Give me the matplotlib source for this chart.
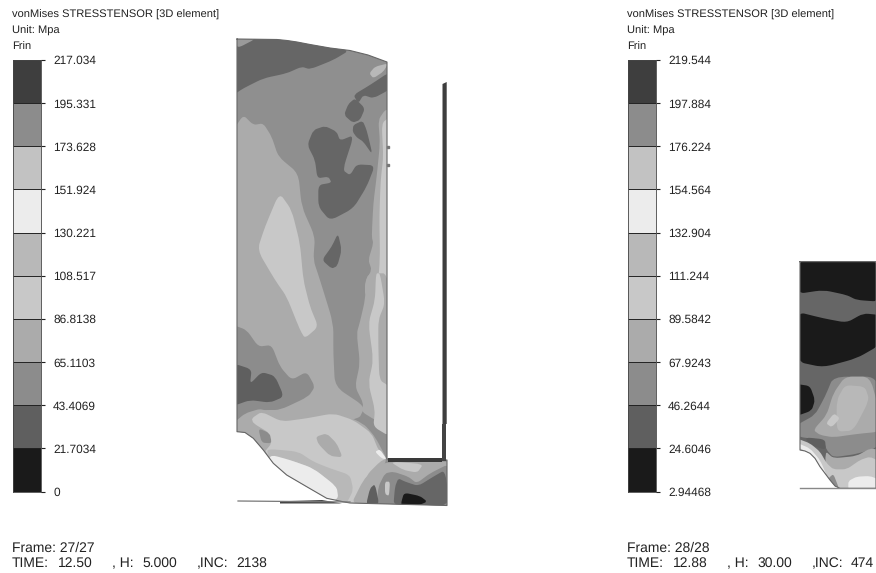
import numpy as np
import matplotlib
matplotlib.use("Agg")
import matplotlib.pyplot as plt
from matplotlib.path import Path
from matplotlib.patches import PathPatch

plt.rcParams['font.family'] = ['Liberation Sans', 'DejaVu Sans']
plt.rcParams['text.hinting'] = 'no_hinting'

#######################################
# DATA
#######################################

# fringe bars, top to bottom
levels_left = [217.034, 195.331, 173.628, 151.924, 130.221, 108.517, 86.8138, 65.1103, 43.4069, 21.7034, 0]
labels_left = ["217.034", "195.331", "173.628", "151.924", "130.221", "108.517", "86.8138", "65.1103", "43.4069", "21.7034", "0"]
levels_right = [219.544, 197.884, 176.224, 154.564, 132.904, 111.244, 89.5842, 67.9243, 46.2644, 24.6046, 2.94468]
labels_right = ["219.544", "197.884", "176.224", "154.564", "132.904", "111.244", "89.5842", "67.9243", "46.2644", "24.6046", "2.94468"]
band_greys = ["#3e3e3e", "#8c8c8c", "#c2c2c2", "#ececec", "#b8b8b8", "#c8c8c8", "#ababab", "#8c8c8c", "#5f5f5f", "#1a1a1a"]

# contours traced on the 3x crops, (crop origin, colour, points)
TOP = (220, 30)
LOW = (220, 280)
EDGE_A = (340, 100)
EDGE_B = (340, 280)
BOX = (340, 440)
RIGHT = (590, 250)
TOE = (790, 380)

left_outline = [(237, 39), (277, 39.5), (287, 40.5), (297, 42), (310, 44.5), (330, 48), (350, 50.5), (368, 55), (387, 62),
                (387, 459), (447, 460), (447, 505.5), (350, 503), (343, 501.7), (326.7, 498.3), (306.7, 486.7),
                (286.7, 475), (273.3, 463.3), (263.3, 450), (253.3, 438.3), (245, 432.5), (237, 431.7)]

left_layers = [
    (TOP, "#666666", [(40, 195), (40, 20), (170, 20), (270, 35), (390, 60), (340, 90), (270, 118), (245, 110), (200, 130), (130, 145), (70, 175)]),
    (TOP, "#9a9a9a", [(45, 25), (110, 25), (52, 55)]),
    (TOP, "#b8b8b8", [(448, 130), (465, 110), (505, 100), (490, 125), (460, 145)]),
    (TOP, "#666666", [(400, 195), (450, 165), (510, 125), (510, 178), (460, 205), (430, 195), (415, 220)]),
    (TOP, "#666666", [(405, 205), (435, 235), (420, 270), (398, 278), (372, 255), (385, 222)]),
    (TOP, "#666666", [(400, 285), (428, 272), (440, 300), (458, 375), (430, 335), (410, 322), (398, 305)]),
    (TOP, "#666666", [(262, 345), (280, 300), (315, 288), (350, 305), (360, 332), (402, 315), (368, 420), (390, 436), (410, 403), (465, 406), (440, 470), (400, 535), (330, 572), (295, 530), (295, 465), (335, 458), (325, 440), (292, 445), (285, 390)]),
    (TOP, "#666666", [(354, 610), (365, 660), (352, 708), (335, 716), (306, 690), (335, 650)]),
    # left light zone, runs over both crops
    (TOP, "#ababab", [(40, 300), (70, 255), (100, 285), (130, 280), (155, 320), (175, 380), (235, 430), (245, 530), (285, 620), (280, 690), (300, 750), (340, 880), (340, 970), (345, 1070), (435, 1130), (415, 1170), (40, 1220)]),
    (TOP, "#c8c8c8", [(178, 488), (135, 590), (112, 660), (165, 750), (200, 800), (240, 900), (255, 925), (295, 890), (270, 830), (250, 750), (240, 640), (215, 540)]),
    # right edge strips
    (EDGE_A, "#ababab", [(115, 60), (135, 30), (150, 30), (150, 590), (75, 590), (75, 545), (95, 510), (85, 480), (100, 430), (95, 410), (100, 310), (110, 230), (120, 130)]),
    (EDGE_A, "#c8c8c8", [(125, 70), (150, 50), (150, 590), (110, 590), (120, 480), (118, 350), (122, 240), (130, 170)]),
    (EDGE_B, "#ababab", [(80, -20), (150, -20), (150, 440), (105, 420), (65, 395), (70, 370), (45, 320), (60, 250), (50, 160), (60, 125), (75, 60)]),
    (EDGE_B, "#c8c8c8", [(108, -20), (120, -20), (135, 70), (115, 120), (115, 200), (118, 300), (150, 320), (150, 470), (100, 440), (105, 390), (85, 310), (100, 240), (85, 130), (105, 60)]),
    # lower left darker zones
    (LOW, "#8c8c8c", [(40, 135), (80, 150), (115, 200), (155, 195), (180, 260), (215, 300), (260, 275), (285, 320), (265, 350), (180, 390), (130, 390), (95, 395), (40, 425)]),
    (LOW, "#5f5f5f", [(40, 250), (95, 268), (90, 312), (125, 276), (165, 288), (192, 350), (150, 368), (90, 360), (40, 378)]),
    (LOW, "#ababab", [(40, 470), (40, 430), (75, 400), (125, 385), (185, 415), (340, 392), (430, 430), (465, 470), (505, 545), (440, 600), (400, 690), (150, 570), (100, 490)]),
    (LOW, "#8c8c8c", [(115, 445), (150, 460), (155, 490), (125, 488)]),
    (LOW, "#c8c8c8", [(95, 415), (125, 395), (185, 425), (260, 415), (340, 400), (400, 420), (455, 460), (475, 510), (500, 535), (480, 545), (440, 585), (400, 690), (350, 690), (130, 520), (155, 490), (150, 460), (100, 430)]),
    (LOW, "#ababab", [(288, 470), (320, 460), (350, 490), (368, 532), (330, 528), (295, 492)]),
    (LOW, "#b8b8b8", [(140, 510), (160, 508), (235, 515), (280, 545), (330, 565), (390, 585), (400, 630), (380, 670), (345, 670), (350, 620), (280, 565), (210, 540), (150, 540)]),
    (LOW, "#ececec", [(155, 525), (210, 540), (280, 565), (350, 620), (355, 655), (320, 670), (260, 640), (200, 600), (140, 545)]),
    # box at the bottom right
    (BOX, "#ababab", [(30, 200), (70, 120), (100, 90), (140, 65), (310, 65), (330, 65), (330, 200)]),
    (BOX, "#8c8c8c", [(110, 200), (115, 140), (135, 100), (160, 95), (205, 110), (230, 130), (270, 100), (330, 70), (330, 200)]),
    (BOX, "#666666", [(160, 200), (165, 140), (175, 115), (195, 125), (235, 138), (280, 110), (315, 90), (330, 200)]),
    (BOX, "#5f5f5f", [(78, 195), (90, 145), (105, 132), (118, 195)]),
    (BOX, "#c8c8c8", [(135, 125), (150, 125), (147, 168), (135, 162)]),
    (BOX, "#c8c8c8", [(150, 65), (250, 72), (232, 98), (190, 90)]),
    (BOX, "#1a1a1a", [(183, 190), (192, 158), (240, 168), (262, 185), (235, 196), (188, 196)]),
    (BOX, "#ececec", [(105, 35), (120, 28), (140, 58), (125, 55)]),
]

right_outline = [(630, 35), (858, 35), (858, 715), (750, 715), (735, 708), (720, 690), (705, 670), (690, 650), (675, 625), (660, 610), (645, 603), (630, 600)]

right_layers = [
    (RIGHT, "#1a1a1a", [(620, 25), (870, 25), (870, 155), (800, 150), (770, 135), (700, 120), (620, 132)]),
    (RIGHT, "#1a1a1a", [(620, 185), (700, 205), (770, 218), (820, 190), (870, 195), (870, 285), (800, 325), (700, 352), (620, 335)]),
    (TOE, "#1a1a1a", [(20, 12), (60, 18), (75, 60), (65, 92), (20, 108)]),
    (TOE, "#8c8c8c", [(20, 135), (75, 105), (105, 50), (130, -10), (270, -10), (270, 200), (200, 222), (130, 232), (110, 210), (100, 180), (20, 170)]),
    (TOE, "#ababab", [(70, 150), (110, 105), (130, 40), (165, -10), (240, -10), (270, 100), (270, 155), (200, 162), (130, 172), (90, 165)]),
    (TOE, "#b8b8b8", [(140, 60), (165, 15), (225, 20), (238, 60), (190, 152), (140, 155)]),
    (TOE, "#c8c8c8", [(108, 130), (132, 100), (150, 115), (125, 142)]),
    (TOE, "#5f5f5f", [(45, 172), (105, 178), (108, 210), (60, 195)]),
    (TOE, "#ababab", [(105, 212), (130, 235), (200, 228), (240, 205), (270, 210), (270, 330), (110, 330)]),
    (TOE, "#c8c8c8", [(20, 175), (60, 190), (90, 215), (110, 250), (130, 268), (170, 268), (210, 240), (240, 230), (270, 245), (270, 330), (130, 330), (80, 280), (50, 225), (20, 205)]),
    (TOE, "#ececec", [(175, 303), (200, 290), (240, 288), (270, 300), (270, 330), (175, 330)]),
    (TOE, "#ececec", [(20, 188), (60, 205), (90, 240), (112, 290), (70, 250), (50, 215), (20, 200)]),
    (TOE, "#8c8c8c", [(115, 295), (130, 282), (142, 312), (148, 330), (125, 330)]),
]

# tool parts around the left mesh, in picture pixels
wall = [(442.5, 84), (446.7, 82), (446.7, 424), (442.5, 424)]
wall_low = [(442, 424), (445.5, 424), (445.5, 461), (442, 461)]
plate = [(388, 458), (442, 458), (442, 461.5), (388, 461.5)]
tool_line = [(238, 501), (350, 502)]
tool_wedge = [(280, 501.3), (322, 500), (342, 503.5), (280, 503.5)]
edge_bumps = [(387.5, 146.5), (387.5, 165)]
toe_line = [(800, 488), (876, 488)]


#######################################
# DISPLAY FUNCTIONS
#######################################

W, H = 876, 573
TEXT = "#222222"


def from_crop(origin, pts):
    return [(origin[0] + p[0] / 3, origin[1] + p[1] / 3) for p in pts]


def contour_patch(pts, colour, zorder=2):
    # closed outline through the traced points with slightly rounded corners
    pts = np.array(pts)
    prev_pts = np.roll(pts, 1, axis=0)
    next_pts = np.roll(pts, -1, axis=0)
    before = pts + (prev_pts - pts) * 0.3
    after = pts + (next_pts - pts) * 0.3
    verts = [before[0]]
    codes = [Path.MOVETO]
    for i in range(len(pts)):
        if i > 0:
            verts.append(before[i])
            codes.append(Path.LINETO)
        verts += [pts[i], after[i]]
        codes += [Path.CURVE3, Path.CURVE3]
    verts.append(before[0])
    codes.append(Path.LINETO)
    return PathPatch(Path(verts, codes), facecolor=colour, edgecolor='none', lw=0, zorder=zorder)


def draw_mesh(ax, outline, base, layers):
    outline = np.array(outline)
    body = ax.fill(outline[:, 0], outline[:, 1], color=base, lw=0, zorder=1)[0]
    for origin, c, pts in layers:
        patch = contour_patch(from_crop(origin, pts), c)
        ax.add_patch(patch)
        patch.set_clip_path(body)
    ax.plot(np.append(outline[:, 0], outline[0, 0]), np.append(outline[:, 1], outline[0, 1]),
            color="#666666", lw=0.8, zorder=3)


def draw_fringe(fig, x0, levels, labels):
    # bar spans y=60..491.5 px in the picture
    top, bottom = 60, 491.5
    ax = fig.add_axes([x0 / W, 1 - bottom / H, 28 / W, (bottom - top) / H])
    edges = np.array(levels)
    for i, c in enumerate(band_greys):
        ax.fill_between([0, 1], edges[i + 1], edges[i], color=c, lw=0)
    ax.set_xlim(0, 1)
    ax.set_ylim(levels[-1], levels[0])
    ax.set_xticks([])
    ax.set_yticks(levels)
    ax.set_yticklabels(labels, fontsize=8.6, color=TEXT)
    ax.yaxis.tick_right()
    ax.tick_params(axis='y', length=3.2, width=0.8, pad=5.5, color=TEXT)
    for s in ax.spines.values():
        s.set_linewidth(0.6)
        s.set_color("#444444")
    ax.hlines(levels[1:-1], 0, 1, color=TEXT, lw=0.7)


def draw_header(ax, x, frame, time, h, inc):
    for i, t in enumerate(["vonMises STRESSTENSOR [3D element]", "Unit: Mpa", "Frin"]):
        ax.text(x, 18 + i * 15.3, t, fontsize=8.0, color=TEXT, va='baseline')
    ax.text(x, 552, "Frame: " + frame, fontsize=10, color=TEXT, va='baseline')
    # footer pieces, label then value
    for dx, t in [(0, "TIME:"), (46, time), (100, ", H:"), (130, h), (185, ",INC:"), (224, inc)]:
        ax.text(x + dx, 567, t, fontsize=10, color=TEXT, va='baseline')


fig = plt.figure(figsize=(W / 100, H / 100), dpi=100)
ax = fig.add_axes([0, 0, 1, 1])
ax.set_xlim(0, W)
ax.set_ylim(H, 0)
ax.axis('off')

draw_mesh(ax, left_outline, "#8f8f8f", left_layers)
draw_mesh(ax, from_crop(RIGHT, right_outline), "#666666", right_layers)

for part, c in [(wall, "#3e3e3e"), (wall_low, "#444444"), (plate, "#3a3a3a"), (tool_wedge, "#444444")]:
    p = np.array(part)
    ax.fill(p[:, 0], p[:, 1], color=c, lw=0, zorder=4)
p = np.array(tool_line)
ax.plot(p[:, 0], p[:, 1], color="#777777", lw=0.9, zorder=4)
p = np.array(toe_line)
ax.plot(p[:, 0], p[:, 1], color="#888888", lw=1.0, zorder=4)
p = np.array(edge_bumps)
ax.plot(p[:, 0], p[:, 1], ls='none', marker='s', ms=1.5, color="#777777", zorder=4)

draw_header(ax, 12, "27/27", "12.50", "5.000", "2138")
draw_header(ax, 627, "28/28", "12.88", "30.00", "474")

draw_fringe(fig, 13, levels_left, labels_left)
draw_fringe(fig, 628, levels_right, labels_right)

fig.savefig("out.png", dpi=100)
